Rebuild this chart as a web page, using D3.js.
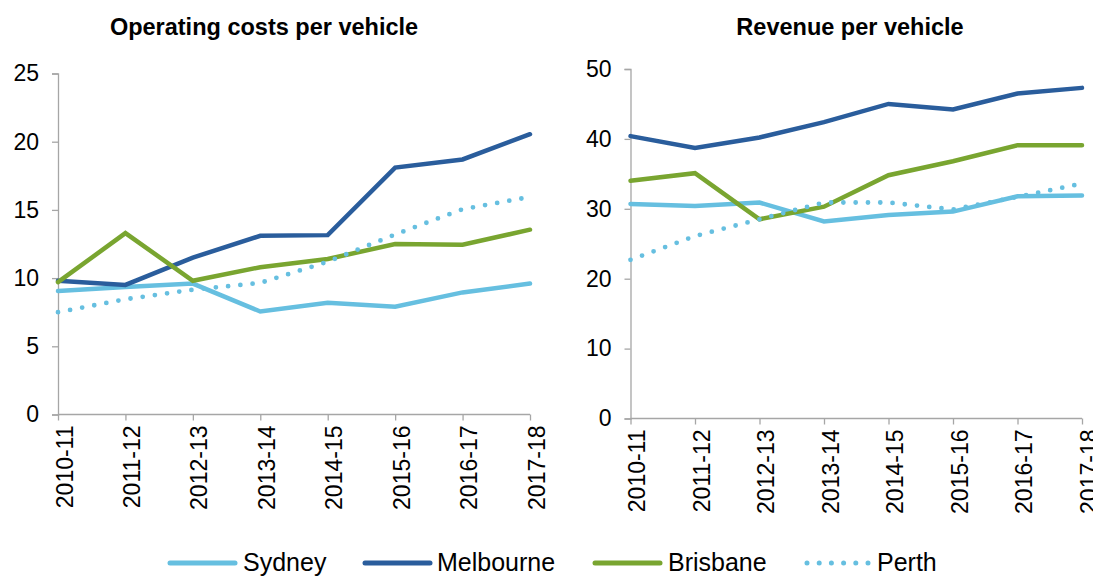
<!DOCTYPE html>
<html>
<head>
<meta charset="utf-8">
<script src="https://cdn.jsdelivr.net/npm/d3@7"></script>
<style>
  html, body { margin: 0; padding: 0; background: #fff; }
  svg { display: block; font-family: "Liberation Sans", Arial, sans-serif; }
</style>
</head>
<body>
<svg id="chart" width="1093" height="576"></svg>
<script>
// Financial years on the x axis
const years = ["2010-11", "2011-12", "2012-13", "2013-14", "2014-15", "2015-16", "2016-17", "2017-18"];

// Operating costs per vehicle
const costSydney    = [9.05, 9.35, 9.6, 7.55, 8.2, 7.9, 8.95, 9.6];
const costMelbourne = [9.8, 9.5, 11.5, 13.1, 13.15, 18.1, 18.7, 20.55];
const costBrisbane  = [9.7, 13.3, 9.8, 10.8, 11.4, 12.5, 12.45, 13.55];
const costPerth     = [7.5, 8.45, 9.15, 9.65, 11.2, 13.2, 15.05, 15.95];

// Revenue per vehicle
const revSydney    = [30.7, 30.4, 30.9, 28.2, 29.1, 29.6, 31.8, 31.9];
const revMelbourne = [40.4, 38.7, 40.2, 42.4, 45.0, 44.2, 46.5, 47.3];
const revBrisbane  = [34.0, 35.1, 28.5, 30.3, 34.8, 36.8, 39.1, 39.1];
const revPerth     = [22.7, 26.1, 28.5, 30.9, 30.9, 29.9, 31.7, 33.6];

const cityNames = ["Sydney", "Melbourne", "Brisbane", "Perth"];
const costTicks = [0, 5, 10, 15, 20, 25];
const revTicks  = [0, 10, 20, 30, 40, 50];

const styles = {
  Sydney:    { color: "#66bfe0", dash: null },
  Melbourne: { color: "#2a5d9c", dash: null },
  Brisbane:  { color: "#79a530", dash: null },
  Perth:     { color: "#66bfe0", dash: "0 12.3" }
};

const svg = d3.select("#chart");
const axisColor = "#a6a6a6";
const fontFamily = "Liberation Sans, Arial, sans-serif";

function drawPanel(opts) {
  const x = d3.scalePoint().domain(years).range([opts.x0, opts.x1]);
  const y = d3.scaleLinear().domain([0, opts.max]).range([opts.y0, opts.y1]);
  const g = svg.append("g");

  // title
  g.append("text")
    .attr("x", opts.titleX).attr("y", 35)
    .attr("text-anchor", "middle")
    .attr("font-size", 23.5).attr("font-weight", "bold")
    .attr("fill", "#000")
    .text(opts.title);

  // y axis
  const yAxis = g.append("g")
    .attr("transform", `translate(${opts.x0},0)`)
    .call(d3.axisLeft(y).tickValues(opts.ticks).tickSize(6).tickPadding(13));
  yAxis.select(".domain").attr("stroke", axisColor).attr("stroke-width", 1.3);
  yAxis.selectAll(".tick line").attr("stroke", axisColor).attr("stroke-width", 1.3);
  yAxis.selectAll(".tick text").attr("font-size", 23).attr("fill", "#000")
    .attr("font-family", fontFamily);

  // x axis with rotated year labels
  const xAxis = g.append("g")
    .attr("transform", `translate(0,${opts.y0})`)
    .call(d3.axisBottom(x).tickSize(6).tickSizeOuter(0).tickPadding(0));
  xAxis.select(".domain").attr("stroke", axisColor).attr("stroke-width", 1.3)
    .attr("d", `M${opts.x0},0H${opts.x1}`);
  xAxis.selectAll(".tick line").attr("stroke", axisColor).attr("stroke-width", 1.3);
  xAxis.selectAll(".tick text")
    .attr("font-size", 23).attr("fill", "#000")
    .attr("font-family", fontFamily)
    .attr("text-anchor", "end")
    .attr("dy", "0.35em")
    .attr("transform", "translate(0,11) rotate(-90)");

  const line = d3.line()
    .x((d, i) => x(years[i]))
    .y(d => y(d));

  opts.series.forEach((vals, k) => {
    const st = styles[cityNames[k]];
    g.append("path")
      .datum(vals)
      .attr("d", line)
      .attr("fill", "none")
      .attr("stroke", st.color)
      .attr("stroke-width", st.dash ? 4.8 : 4.5)
      .attr("stroke-linecap", "round")
      .attr("stroke-linejoin", "miter")
      .attr("stroke-dasharray", st.dash);
  });
}

drawPanel({
  title: "Operating costs per vehicle", titleX: 264,
  x0: 58, x1: 530, y0: 414.5, y1: 73.5, max: 25, ticks: costTicks,
  series: [costSydney, costMelbourne, costBrisbane, costPerth]
});

drawPanel({
  title: "Revenue per vehicle", titleX: 850,
  x0: 630.5, x1: 1082, y0: 418.5, y1: 69, max: 50, ticks: revTicks,
  series: [revSydney, revMelbourne, revBrisbane, revPerth]
});

// legend
const legendItems = [
  { name: "Sydney",    lx: 170, tx: 243 },
  { name: "Melbourne", lx: 365, tx: 437 },
  { name: "Brisbane",  lx: 595, tx: 668 },
  { name: "Perth",     lx: 807, tx: 877 }
];
const leg = svg.append("g");
legendItems.forEach(it => {
  const st = styles[it.name];
  leg.append("line")
    .attr("x1", it.lx).attr("x2", it.lx + (st.dash ? 61 : 65))
    .attr("y1", 563).attr("y2", 563)
    .attr("stroke", st.color)
    .attr("stroke-width", 5)
    .attr("stroke-linecap", "round")
    .attr("stroke-dasharray", st.dash ? "0 12.2" : null);
  leg.append("text")
    .attr("x", it.tx).attr("y", 571)
    .attr("font-size", 25).attr("fill", "#000")
    .text(it.name);
});
</script>
</body>
</html>
